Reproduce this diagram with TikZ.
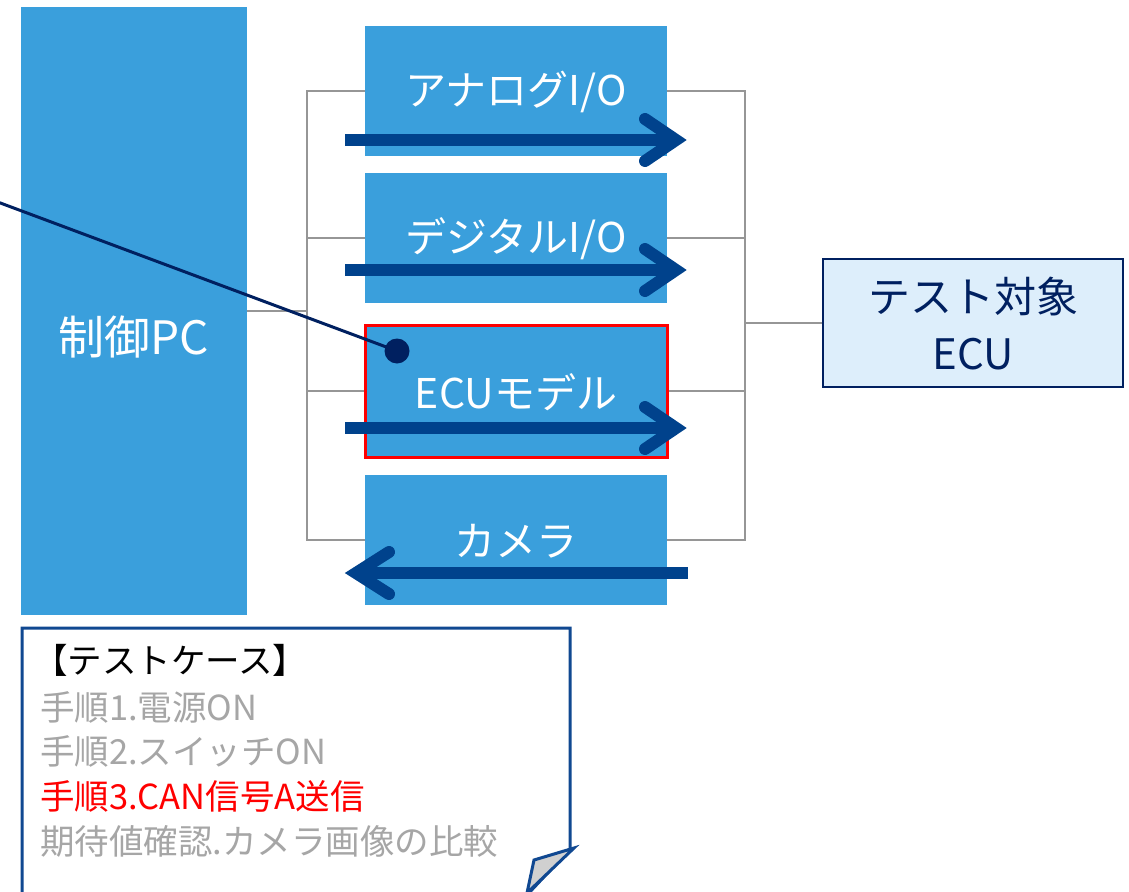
\documentclass[tikz,border=0pt]{standalone}
\usepackage{fontspec}
\setmainfont{Noto Sans CJK JP}
\definecolor{boxblue}{RGB}{58,159,220}
\definecolor{arrowblue}{RGB}{0,66,140}
\definecolor{navy}{RGB}{0,32,96}
\definecolor{grayline}{RGB}{150,150,150}
\definecolor{ecufill}{RGB}{221,238,251}
\definecolor{noteblue}{RGB}{16,72,145}
\definecolor{notegray}{RGB}{166,166,166}
\definecolor{foldgray}{RGB}{208,208,208}
\tikzset{
  blk/.style={fill=boxblue, draw=none, inner sep=0pt, outer sep=0pt},
  modtext/.style={text=white, font=\fontsize{41}{44}\selectfont},
  conn/.style={draw=grayline, line width=1.5pt},
  sig/.style={draw=arrowblue, line width=12pt},
  sighead/.style={draw=arrowblue, line width=12pt, line cap=round, line join=miter},
  notetext/.style={anchor=west, inner sep=0pt, font=\fontsize{34.5}{38}\selectfont},
}
\begin{document}
\begin{tikzpicture}[x=1pt,y=-1pt]
\useasboundingbox (0,0) rectangle (1129,891);
% boxes
\node[blk, minimum width=226pt, minimum height=608pt] (pc) at (134,311) {};
\node[blk, minimum width=302pt, minimum height=130pt] (m1) at (516,91) {};
\node[blk, minimum width=302pt, minimum height=130pt] (m2) at (516,238) {};
\node[blk, minimum width=302pt, minimum height=132pt] (m3) at (516,391) {};
\node[blk, minimum width=302pt, minimum height=130pt] (m4) at (516,540) {};
\node[draw=navy, fill=ecufill, line width=2.5pt, minimum width=300pt, minimum height=128pt, inner sep=0pt] (ecu) at (973,323) {};
% gray connectors
\coordinate (lb1) at (307,91);
\coordinate (lb4) at (307,540);
\coordinate (rb1) at (745,91);
\coordinate (rb4) at (745,540);
\draw[conn] (m1.west) -- (lb1) -- (lb4) -- (m4.west);
\draw[conn] (m2.west) -- (m2.west -| lb1);
\draw[conn] (m3.west) -- (m3.west -| lb1);
\draw[conn] (pc.east) -- (pc.east -| lb1);
\draw[conn] (m1.east) -- (rb1) -- (rb4) -- (m4.east);
\draw[conn] (m2.east) -- (m2.east -| rb1);
\draw[conn] (m3.east) -- (m3.east -| rb1);
\draw[conn] (ecu.west) -- (ecu.west -| rb1);
% redraw boxes on top of connectors
\fill[boxblue] (m1.north west) rectangle (m1.south east);
\fill[boxblue] (m2.north west) rectangle (m2.south east);
\fill[boxblue] (m4.north west) rectangle (m4.south east);
\fill[boxblue] (pc.north west) rectangle (pc.south east);
\draw[red, line width=3pt, fill=boxblue] (m3.north west) rectangle (m3.south east);
% texts
\node[modtext] (t1) at (516,92) {アナログI/O};
\node[modtext] (t2) at (516,239) {デジタルI/O};
\node[modtext] (t3) at (516,392) {ECUモデル};
\node[modtext] (t4) at (516,541) {カメラ};
\node[text=white, font=\fontsize{46}{50}\selectfont] (tpc) at (134,337) {制御PC};
\node[text=navy, align=center, font=\fontsize{42}{57}\selectfont] (tecu) at (973,324) {テスト対象\\ECU};
% signal arrows
\foreach \y/\n in {140/a, 270/b, 428/c}{
  \coordinate (s\n) at (345,\y);
  \coordinate (e\n) at (676,\y);
  \draw[sig] (s\n) -- (e\n);
  \draw[sighead] (645,\y-21) -- (676,\y) -- (645,\y+21);
}
\coordinate (sd) at (688,573);
\coordinate (ed) at (356,573);
\draw[sig] (sd) -- (ed);
\draw[sighead] (389,552) -- (356,573) -- (389,594);
% pointer line
\coordinate (pstart) at (-5,201);
\coordinate (dot) at (397,351);
\fill[navy] (dot) circle (12.5pt);
\draw[navy, line width=3pt] (pstart) -- (dot);
% note
\draw[noteblue, line width=3pt, fill=white] (22,900) -- (22,628) -- (570,628) -- (570,849) -- (527,895);
\draw[noteblue, line width=3pt, fill=foldgray, line join=miter] (574,848) -- (534,860) -- (527,893) -- cycle;
\node[notetext, text=black] (n0) at (33,660) {【テストケース】};
\node[notetext, text=notegray] (n1) at (40,707) {手順1.電源ON};
\node[notetext, text=notegray] (n2) at (40,751) {手順2.スイッチON};
\node[notetext, text=red] (n3) at (40,796) {手順3.CAN信号A送信};
\node[notetext, text=notegray] (n4) at (40,841) {期待値確認.カメラ画像の比較};
\end{tikzpicture}
\end{document}
